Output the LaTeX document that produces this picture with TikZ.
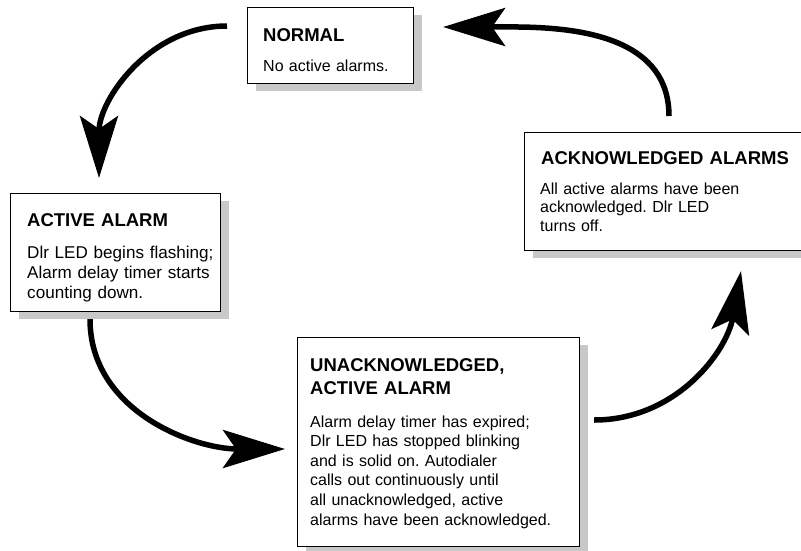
\documentclass[tikz,border=0pt]{standalone}
\usepackage{fontspec}
\setmainfont{Liberation Sans}
\usetikzlibrary{arrows.meta,calc,shadows}
\definecolor{panelShadow}{HTML}{C8C8C8}
\frenchspacing

\tikzset{
  panel/.style={draw=black, line width=1.1pt, fill=white, anchor=north west, inner sep=0pt,
    drop shadow={shadow xshift=8pt, shadow yshift=-7pt, fill=panelShadow, opacity=1}},
  heading/.style={anchor=base west, inner sep=0pt, text width=300pt, align=left,
    font=\fontsize{18.5}{23}\selectfont\bfseries},
  blurb/.style={anchor=base west, inner sep=0pt, text width=300pt, align=left,
    font=\fontsize{16}{19.6}\selectfont},
  loop arrow/.style={line width=5.5pt, ->}
}

\begin{document}
\begin{tikzpicture}[x=1pt, y=1pt, >={Stealth[length=62pt, width=38pt, inset=13pt]}]
  \useasboundingbox (0,0) rectangle (801,-550);

  % the four states
  \node[panel, minimum width=166pt, minimum height=76pt] (normal) at (247,-7) {};
  \node[panel, minimum width=210pt, minimum height=118pt] (active) at (10,-193) {};
  \node[panel, minimum width=285pt, minimum height=118pt] (ack) at (524,-132) {};
  \node[panel, minimum width=282pt, minimum height=209pt] (unack) at (297,-337) {};

  \node[heading] (normalTitle) at (263,-41) {NORMAL};
  \node[blurb] (normalText) at (263,-71) {No active alarms.};

  \node[heading] (activeTitle) at (27,-226) {ACTIVE ALARM};
  \node[blurb, font=\fontsize{17.1}{20}\selectfont] (activeText) at (27,-258)
    {Dlr LED begins flashing;\\ Alarm delay timer starts\\ counting down.};

  \node[heading] (ackTitle) at (541,-164) {ACKNOWLEDGED ALARMS};
  \node[blurb, font=\fontsize{16}{18.6}\selectfont] (ackText) at (540,-194)
    {All active alarms have been\\ acknowledged. Dlr LED\\ turns off.};

  \node[heading] (unackTitle) at (310,-371) {UNACKNOWLEDGED,\\ ACTIVE ALARM};
  \node[blurb] (unackText) at (310,-427)
    {Alarm delay timer has expired;\\ Dlr LED has stopped blinking\\ and is solid on. Autodialer\\
     calls out continuously until\\ all unacknowledged, active\\ alarms have been acknowledged.};

  % the cycle between them
  \draw[loop arrow] ($(normal.north west)+(-20,-19)$) to[out=180, in=90] ($(active.north west)+(89,15)$);
  \draw[loop arrow] ($(active.south west)+(80,-7)$) to[out=-90, in=180] ($(unack.north west)+(-12,-112)$);
  \draw[loop arrow] ($(unack.north east)+(14,-83)$) to[out=0, in=-100] ($(ack.south west)+(217,-20)$);
  \draw[loop arrow] ($(ack.north west)+(145,16)$) to[out=90, in=0] ($(normal.north east)+(29,-20)$);
\end{tikzpicture}
\end{document}
